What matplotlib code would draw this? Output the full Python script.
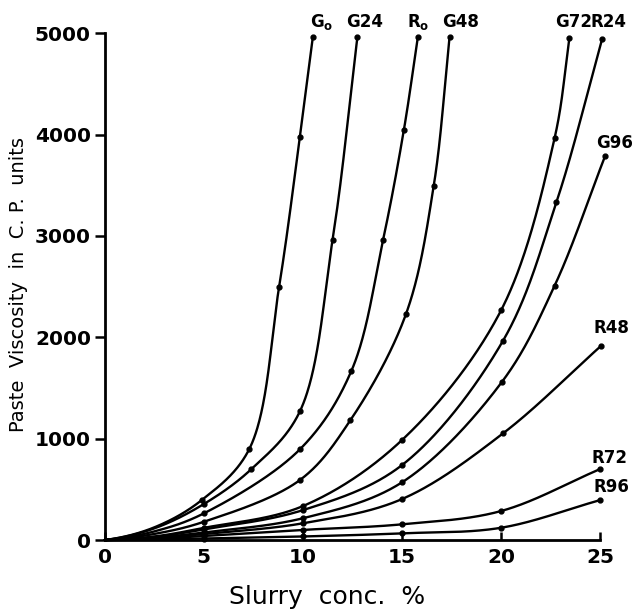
import numpy as np
import matplotlib
matplotlib.use("Agg")
import matplotlib.pyplot as plt

# ── Data (slurry conc. %, paste viscosity C.P.) ──
g0_x = [0, 2.5, 4.9, 7.3, 8.8, 9.85, 10.5]
g0_y = [0, 125, 395, 900, 2500, 3980, 4960]

g24_x = [0, 2.5, 5, 7.4, 9.85, 11.5, 12.75]
g24_y = [0, 115, 355, 700, 1270, 2965, 4960]

r0_x = [0, 2.5, 5, 9.85, 12.45, 14.05, 15.1, 15.8]
r0_y = [0, 85, 263, 895, 1670, 2965, 4050, 4960]

g48_x = [0, 2.5, 5, 9.85, 12.4, 15.2, 16.6, 17.4]
g48_y = [0, 60, 180, 592, 1183, 2228, 3490, 4960]

g72_x = [0, 2.5, 5, 10, 15, 20, 22.7, 23.45]
g72_y = [0, 35, 120, 335, 986, 2265, 3962, 4950]

r24_x = [0, 2.5, 5, 10, 15, 20.1, 22.8, 25.1]
r24_y = [0, 30, 105, 295, 739, 1966, 3336, 4940]

g96_x = [0, 2.5, 5, 10, 15, 20.05, 22.7, 25.25]
g96_y = [0, 22, 75, 215, 569, 1561, 2507, 3787]

r48_x = [0, 2.5, 5, 10, 15, 20.1, 25.05]
r48_y = [0, 18, 60, 165, 404, 1052, 1916]

r72_x = [0, 2.5, 5, 10, 15, 20, 25]
r72_y = [0, 12, 40, 100, 155, 286, 700]

r96_x = [0, 2.5, 5, 10, 15, 20, 25]
r96_y = [0, 5, 15, 35, 66, 121, 394]

series = [
    (r"G$_\mathbf{o}$", g0_x, g0_y, (9, 15)),
    ("G24", g24_x, g24_y, (7, 15)),
    (r"R$_\mathbf{o}$", r0_x, r0_y, (0, 15)),
    ("G48", g48_x, g48_y, (11, 15)),
    ("G72", g72_x, g72_y, (4, 16)),
    ("R24", r24_x, r24_y, (6, 17)),
    ("G96", g96_x, g96_y, (10, 13)),
    ("R48", r48_x, r48_y, (10, 18)),
    ("R72", r72_x, r72_y, (9, 11)),
    ("R96", r96_x, r96_y, (11, 13)),
]


def smooth_curve(x, y, per_seg=80, alpha=0.5):
    """Centripetal Catmull-Rom through the read points (hand-drawn look).
    Works in axis-normalised units so steep and flat parts behave alike."""
    P = np.column_stack([np.asarray(x, float) / 25.0,
                         np.asarray(y, float) / 5000.0])
    # phantom end points: flat start at the origin, straight run-out at the top
    first = np.array([-P[1, 0], 0.0])
    last = 2 * P[-1] - P[-2]
    Q = np.vstack([first, P, last])
    out = []
    for i in range(1, len(Q) - 2):
        p0, p1, p2, p3 = Q[i - 1], Q[i], Q[i + 1], Q[i + 2]
        t0 = 0.0
        t1 = t0 + np.linalg.norm(p1 - p0) ** alpha
        t2 = t1 + np.linalg.norm(p2 - p1) ** alpha
        t3 = t2 + np.linalg.norm(p3 - p2) ** alpha
        t = np.linspace(t1, t2, per_seg)[:, None]
        a1 = (t1 - t) / (t1 - t0) * p0 + (t - t0) / (t1 - t0) * p1
        a2 = (t2 - t) / (t2 - t1) * p1 + (t - t1) / (t2 - t1) * p2
        a3 = (t3 - t) / (t3 - t2) * p2 + (t - t2) / (t3 - t2) * p3
        b1 = (t2 - t) / (t2 - t0) * a1 + (t - t0) / (t2 - t0) * a2
        b2 = (t3 - t) / (t3 - t1) * a2 + (t - t1) / (t3 - t1) * a3
        c = (t2 - t) / (t2 - t1) * b1 + (t - t1) / (t2 - t1) * b2
        out.append(c)
    C = np.vstack(out)
    return C[:, 0] * 25.0, np.clip(C[:, 1], 0, None) * 5000.0


fig = plt.figure(figsize=(6.35, 6.12), dpi=100, facecolor='white')
ax = fig.add_axes([0.165, 0.1176, 0.78, 0.828])

for label, xs_, ys_, off in series:
    cx, cy = smooth_curve(xs_, ys_)
    ax.plot(cx, cy, color='black', lw=1.7, clip_on=False, solid_capstyle='round')
    px = np.asarray(xs_)
    py = np.asarray(ys_)
    keep = px >= 4
    ax.plot(px[keep], py[keep], 'o', color='black', ms=3.5, clip_on=False)
    ax.annotate(label, xy=(px[-1], py[-1]), xytext=off,
                textcoords='offset pixels', ha='center', va='center',
                fontsize=12, fontweight='bold', annotation_clip=False)

ax.set_xlim(0, 25)
ax.set_ylim(0, 5000)
ax.set_xticks([0, 5, 10, 15, 20, 25])
ax.set_yticks([0, 1000, 2000, 3000, 4000, 5000])
ax.spines['top'].set_visible(False)
ax.spines['right'].set_visible(False)
ax.spines['left'].set_linewidth(2)
ax.spines['bottom'].set_linewidth(2)
ax.tick_params(axis='x', direction='in', length=6, width=1.8,
               labelsize=14.5, pad=6)
ax.tick_params(axis='y', direction='out', length=7, width=1.8,
               labelsize=14.5, pad=3)
for lbl in ax.get_xticklabels() + ax.get_yticklabels():
    lbl.set_fontweight('bold')

fig.text(19 / 635, 1 - 285 / 612, 'Paste  Viscosity  in  C. P.  units',
         rotation=90, ha='center', va='center', fontsize=14)
fig.text(327 / 635, 1 - 597 / 612, 'Slurry  conc.  %',
         ha='center', va='center', fontsize=18)

fig.savefig('out.png', dpi=100, facecolor='white')
